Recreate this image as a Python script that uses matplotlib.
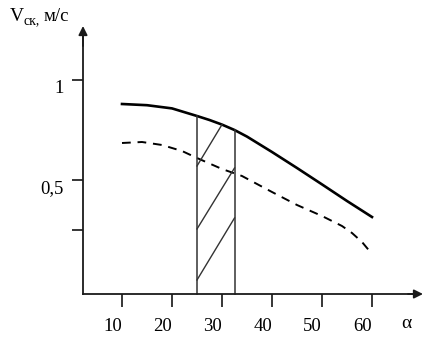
import matplotlib
matplotlib.use("Agg")
import matplotlib.pyplot as plt

plt.rcParams['font.family'] = ['Liberation Serif', 'DejaVu Serif']

# speed vs angle, upper (solid) and lower (dashed) curves
alpha_solid = [10, 15, 20, 25, 27.5, 30, 32.5, 35, 40, 45, 50, 55, 60]
v_solid = [0.88, 0.874, 0.858, 0.82, 0.80, 0.777, 0.75, 0.717, 0.64, 0.56, 0.478, 0.395, 0.315]

alpha_dash = [10, 14, 18, 22, 25, 30, 34, 40, 45, 50, 54, 56, 58, 60]
v_dash = [0.685, 0.69, 0.675, 0.645, 0.61, 0.555, 0.52, 0.44, 0.375, 0.32, 0.27, 0.235, 0.19, 0.13]

# working range of the angle
band = [25, 32.5]
band_top = [0.82, 0.75]

# hatch strokes inside the band: (alpha0, v0, alpha1, v1)
hatch = [(25, 0.0, 32.5, 0.31),
         (25, 0.255, 32.5, 0.56),
         (25, 0.57, 30, 0.777)]

xticks = [10, 20, 30, 40, 50, 60]
yticks = [0.25, 0.5, 1.0]
ytick_labels = ['', '0,5', '1']

x0, y0 = 2.2, -0.07          # where the axes cross
x_end, y_end = 70.2, 1.27    # arrow tips

fig = plt.figure(figsize=(4.29, 3.38), dpi=100)
ax = fig.add_axes([0, 0, 1, 1])
ax.set_xlim(-14.4, 71.4)
ax.set_ylim(-0.29, 1.4)

for s in ['top', 'right']:
    ax.spines[s].set_visible(False)
ax.spines['left'].set_position(('data', x0))
ax.spines['bottom'].set_position(('data', y0))
ax.spines['left'].set_bounds(y0, y_end - 0.03)
ax.spines['bottom'].set_bounds(x0, x_end - 1)
for s in ['left', 'bottom']:
    ax.spines[s].set_linewidth(1.3)
    ax.spines[s].set_color('#1a1a1a')

ax.set_xticks(xticks)
ax.set_xticklabels([str(t) for t in xticks], ha='right')
ax.set_yticks(yticks)
ax.set_yticklabels(ytick_labels, va='top')
ax.tick_params(axis='x', direction='out', length=9, width=1.1, pad=8, labelsize=13.5)
ax.tick_params(axis='y', direction='out', length=8, width=1.1, pad=6, labelsize=13.5)

# arrow heads on the axes
arrow = dict(arrowstyle='-|>', color='#1a1a1a', lw=1.3, mutation_scale=13, shrinkA=0, shrinkB=0)
ax.annotate('', xy=(x0, y_end), xytext=(x0, y_end - 0.1), arrowprops=arrow)
ax.annotate('', xy=(x_end, y0), xytext=(x_end - 3, y0), arrowprops=arrow)

# curves
ax.plot(alpha_solid, v_solid, color='black', lw=1.9)
ax.plot(alpha_dash, v_dash, color='black', lw=1.4, dashes=(4.5, 3.5))

# band borders and hatching
for a, top in zip(band, band_top):
    ax.plot([a, a], [y0, top], color='#333333', lw=1.1)
for a0, v0, a1, v1 in hatch:
    ax.plot([a0, a1], [v0, v1], color='#333333', lw=1.0)

# axis captions
ax.text(10, 317, 'V', transform=None, fontsize=14, ha='left', va='baseline')
ax.text(24, 314, 'ск,', transform=None, fontsize=10, ha='left', va='baseline')
ax.text(44, 317, 'м/с', transform=None, fontsize=13.5, ha='left', va='baseline')
ax.text(406, 14, 'α', transform=None, fontsize=14, ha='center', va='center')

fig.savefig('out.png', dpi=100)
